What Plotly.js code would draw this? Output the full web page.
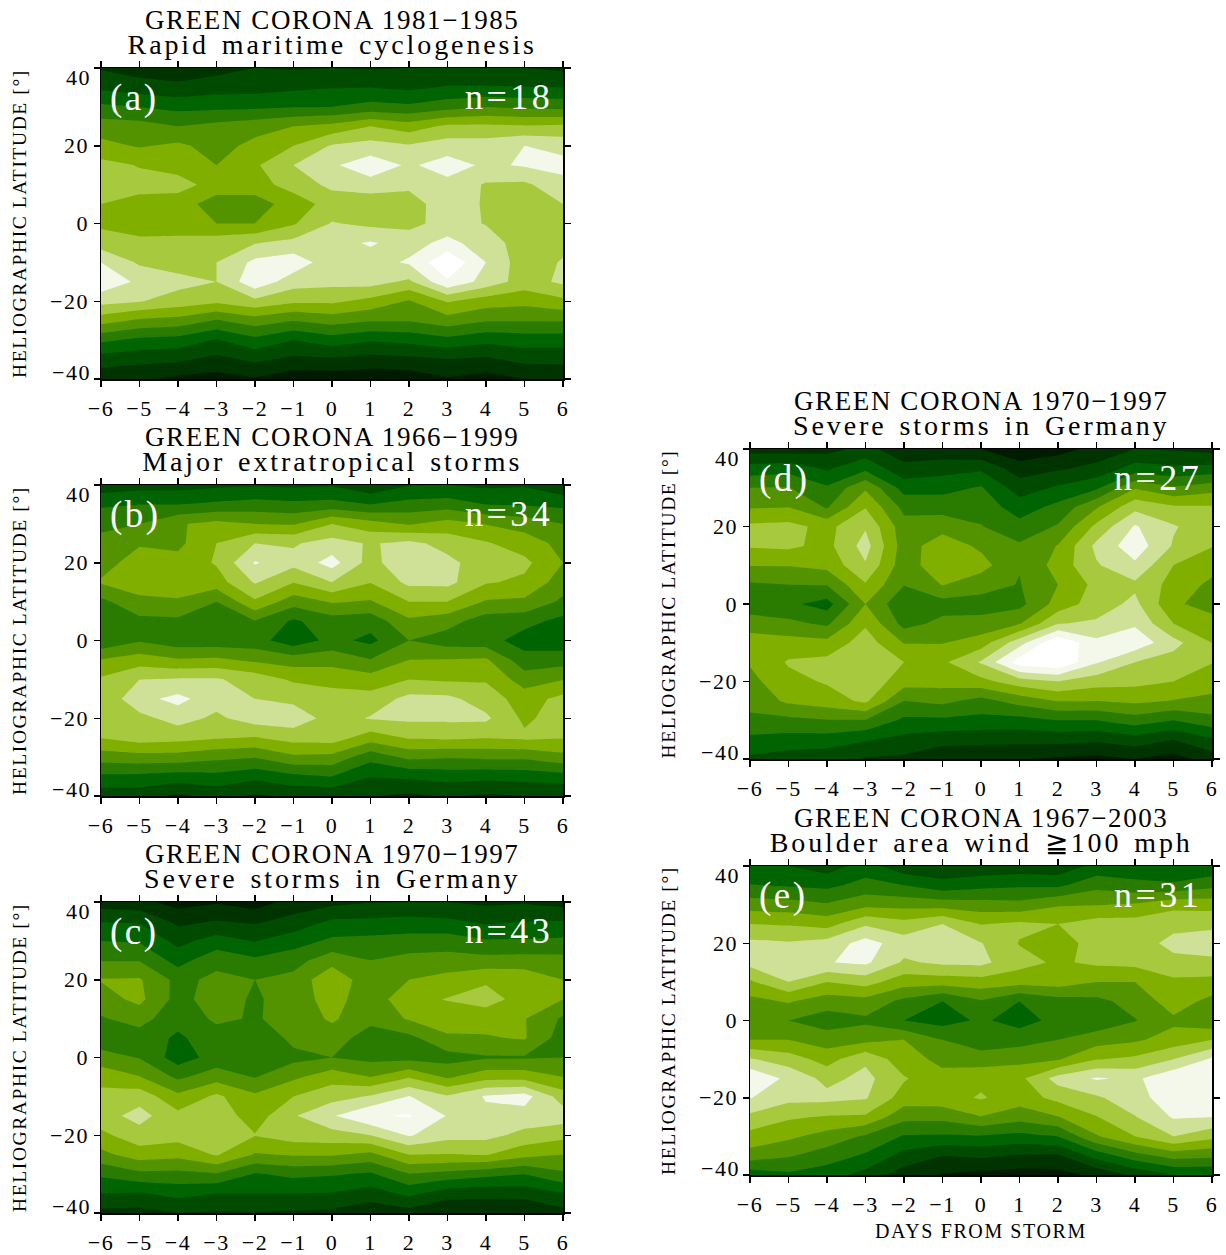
<!DOCTYPE html>
<html><head><meta charset="utf-8">
<script src="https://cdn.plot.ly/plotly-3.0.1.min.js"></script>
<style>html,body{margin:0;padding:0;background:#fff}#chart{width:1226px;height:1255px}
svg text{letter-spacing:1.6px}
text[data-unformatted^="n="]{letter-spacing:3.5px}
text[data-unformatted^="("]{letter-spacing:2.5px}
</style></head><body><div id="chart"></div>
<script>
const days=[-6,-5,-4,-3,-2,-1,0,1,2,3,4,5,6];
const latitudes=[40,35,30,25,20,15,10,5,0,-5,-10,-15,-20,-25,-30,-35,-40];
const panelA=[
[1.9,1.5,1.3,1.6,2.0,1.9,2.0,1.9,2.0,2.0,2.0,2.0,1.8],
[2.8,2.5,2.3,2.6,2.6,2.8,2.95,3.0,2.8,3.1,3.1,3.05,3.0],
[4.2,4.0,3.7,3.75,3.8,3.95,4.0,4.35,4.2,4.6,5.0,4.8,4.7],
[5.5,5.4,5.0,5.3,5.6,6.0,6.3,7.0,6.5,7.2,7.2,7.1,7.2],
[6.3,5.9,6.2,5.6,6.3,7.0,8.1,8.4,8.1,8.5,8.5,9.0,8.7],
[7.3,6.95,6.7,6.0,6.85,8.0,8.85,9.6,8.85,9.45,8.82,9.1,9.3],
[7.2,7.3,7.3,6.7,6.7,7.3,8.3,8.6,8.2,8.7,7.9,7.8,8.7],
[7.0,6.7,6.6,5.4,5.4,6.6,7.3,7.3,7.6,8.5,7.9,7.6,8.0],
[6.8,6.4,6.5,6.0,6.0,6.9,8.08,7.75,7.7,8.4,7.95,7.4,7.6],
[7.5,7.3,7.3,7.6,7.95,8.3,8.7,9.1,8.6,9.3,8.5,7.5,7.7],
[9.0,7.85,7.6,8.0,9.25,9.6,8.4,8.6,9.13,10.87,9.0,7.4,8.1],
[9.7,8.8,8.3,8.0,9.7,8.45,8.3,8.4,7.8,9.85,8.6,7.55,8.2],
[8.35,8.05,7.6,7.2,7.75,7.2,7.2,6.7,5.9,7.1,6.5,6.3,6.75],
[6.4,5.8,5.6,4.9,5.5,5.0,5.4,5.05,5.05,5.55,5.05,5.05,5.05],
[4.2,3.75,3.6,2.9,3.7,3.0,3.5,3.1,3.3,3.7,3.3,3.45,3.45],
[2.5,2.3,2.2,1.7,2.2,1.75,1.85,1.6,1.75,1.95,1.8,2.3,2.3],
[1.3,1.2,0.75,0.6,0.9,0.4,0.4,0.3,0.4,0.9,0.6,1.0,1.1]];
const panelB=[
[2.4,2.6,2.6,2.8,2.9,2.8,2.9,2.2,2.95,3.0,2.8,2.9,2.2],
[3.85,4.0,4.0,4.2,4.4,4.25,4.35,4.0,4.35,4.5,4.0,3.9,3.75],
[4.75,5.0,5.9,6.3,6.0,5.9,7.0,6.4,5.9,6.4,5.95,5.6,5.0],
[5.3,5.9,5.75,7.0,8.0,7.9,8.4,7.9,8.3,7.6,7.1,6.5,5.7],
[5.6,6.45,6.35,7.1,9.1,8.3,9.4,7.6,8.93,8.3,7.4,7.25,6.0],
[6.1,6.6,6.7,6.55,8.1,7.05,8.0,7.05,8.25,8.3,7.1,6.8,5.5],
[4.75,5.7,5.85,5.0,6.85,5.45,6.1,5.9,7.0,7.0,5.9,5.8,4.8],
[4.3,4.75,4.8,4.5,4.95,3.85,4.55,4.4,5.8,5.4,4.5,4.35,3.7],
[4.2,4.9,4.4,4.4,4.4,3.4,4.3,3.75,5.0,4.5,4.4,3.55,3.4],
[6.05,6.5,6.1,6.2,5.8,5.5,5.65,5.05,6.0,6.05,6.15,4.4,4.55],
[7.15,8.0,8.1,8.1,7.6,6.85,6.6,6.45,7.0,6.85,6.9,5.5,5.95],
[7.2,8.7,9.3,8.4,8.0,7.75,7.5,7.4,8.3,8.25,7.5,6.55,7.3],
[7.4,7.7,8.4,7.8,8.5,8.6,7.6,8.08,8.2,8.2,8.2,6.8,7.5],
[7.05,7.5,7.35,7.1,6.95,7.4,7.5,6.5,7.1,7.2,7.05,7.2,7.05],
[5.45,5.6,5.6,5.25,5.05,5.8,5.7,4.35,5.25,5.1,5.2,5.2,5.7],
[3.8,3.75,3.55,3.7,3.3,3.75,4.0,3.05,3.2,3.4,3.3,3.4,3.6],
[2.4,2.4,1.8,2.3,1.85,2.2,2.2,2.05,1.8,2.1,1.85,2.0,2.0]];
const panelC=[
[1.5,1.3,0.6,0.9,0.5,1.4,1.7,1.95,2.0,2.0,1.8,1.9,1.6],
[2.95,2.9,1.75,2.05,1.85,2.35,3.15,3.2,3.35,3.2,2.8,3.0,3.05],
[4.0,3.9,2.7,3.4,2.95,3.55,4.2,4.3,4.4,4.5,4.1,4.1,4.2],
[4.95,4.95,3.6,4.7,4.2,4.6,5.6,5.0,5.35,5.4,5.35,5.4,5.35],
[6.05,6.1,4.7,5.25,5.0,5.3,6.8,5.3,6.0,6.35,6.85,6.7,6.0],
[5.6,6.25,4.65,5.5,4.85,5.5,6.4,5.4,6.7,7.05,7.4,6.6,6.0],
[4.9,5.4,4.3,5.2,4.9,5.4,6.15,5.3,6.1,6.5,6.45,6.05,4.85],
[4.4,4.5,3.85,4.5,4.1,5.3,5.5,4.5,4.7,5.85,5.9,6.1,4.5],
[5.4,4.95,3.5,4.4,4.1,4.7,5.0,4.7,4.65,4.6,4.9,4.9,5.0],
[6.65,6.05,4.8,5.55,4.95,5.8,6.6,6.0,6.9,5.85,6.6,6.6,6.0],
[7.3,7.6,6.25,7.2,6.2,7.0,7.6,8.1,9.05,8.1,9.1,9.4,7.5],
[7.6,8.35,7.3,7.6,6.5,7.9,8.9,9.9,10.1,8.95,8.75,8.6,8.5],
[6.75,7.6,7.4,7.6,7.05,7.5,7.6,8.0,9.1,8.35,8.3,7.7,7.3],
[5.7,6.5,6.3,7.1,5.9,6.1,6.1,5.7,7.0,6.95,7.05,6.3,6.0],
[4.2,4.75,4.7,4.9,3.9,4.25,4.1,3.85,4.95,4.65,4.3,4.0,4.8],
[3.0,2.9,3.35,3.0,3.0,3.0,2.95,2.55,3.25,2.45,2.3,2.4,2.95],
[1.7,1.65,2.0,1.9,1.95,1.85,1.75,1.3,1.6,1.0,1.2,1.05,1.65]];
const panelD=[
[1.6,1.5,1.7,2.3,1.4,1.3,1.0,0.2,0.6,1.3,2.0,1.9,1.65],
[3.4,3.6,2.85,3.75,2.3,2.6,2.8,1.5,1.85,2.3,3.4,3.2,3.3],
[5.0,5.05,4.15,5.85,3.6,3.65,4.1,2.5,3.15,3.8,5.9,5.1,5.6],
[5.9,6.0,4.9,6.95,4.7,4.6,4.6,3.5,4.3,5.9,7.7,7.15,7.1],
[7.2,7.3,6.7,7.9,5.4,5.6,5.05,4.35,5.1,7.25,9.1,8.1,7.35],
[7.1,7.2,6.7,8.4,5.5,6.6,5.8,5.15,6.05,8.25,9.6,7.9,7.05],
[6.05,6.05,6.3,7.9,5.4,6.8,6.4,5.05,6.4,7.9,8.8,7.0,6.4],
[4.85,5.0,5.05,6.9,5.05,6.05,5.4,4.95,6.0,7.3,7.8,6.65,5.75],
[4.4,4.2,3.6,6.0,4.2,4.6,4.6,4.7,6.4,7.5,8.25,6.2,5.5],
[5.5,5.25,4.8,6.85,4.65,5.25,5.3,5.9,7.95,8.15,8.85,7.0,6.5],
[6.5,6.4,6.3,7.5,5.95,5.95,6.5,8.6,10.9,9.25,9.65,8.35,7.0],
[6.1,7.1,7.3,7.7,7.0,6.8,8.1,10.5,10.9,9.1,8.0,7.55,7.05],
[5.7,6.7,7.1,7.7,6.45,6.4,6.7,7.55,8.0,7.45,7.3,7.0,6.35],
[5.3,6.2,6.55,7.2,5.0,5.25,4.65,5.4,6.05,6.0,6.2,5.95,5.8],
[4.8,4.75,4.95,4.95,3.8,3.8,3.7,3.65,4.0,4.0,4.55,4.0,4.65],
[3.75,3.6,3.55,3.1,2.7,2.4,2.3,2.3,2.35,2.2,2.55,2.0,2.85],
[2.8,2.5,2.35,1.9,1.8,1.2,1.2,1.1,0.85,0.7,1.0,0.6,1.45]];
const panelE=[
[3.1,3.0,2.5,3.45,2.3,2.2,2.3,2.4,2.3,3.3,3.25,3.0,3.2],
[4.05,3.9,3.75,4.35,4.0,3.4,3.7,3.85,3.8,4.7,4.35,4.2,4.7],
[5.5,5.4,5.1,5.7,5.65,5.55,5.4,5.3,5.9,5.95,6.1,6.7,6.6],
[7.0,6.9,6.6,7.85,7.35,8.0,6.95,7.2,7.0,7.45,7.45,7.7,7.8],
[8.25,8.1,8.4,9.4,8.5,8.6,8.05,6.95,6.6,7.35,7.5,8.3,8.45],
[8.35,8.6,8.95,9.2,7.85,8.2,8.25,7.35,6.85,7.2,7.3,7.7,7.8],
[6.85,8.0,7.0,7.4,6.45,6.45,6.6,6.4,6.5,6.0,6.0,6.8,6.7],
[5.7,6.1,5.5,5.65,4.75,4.0,4.9,4.0,4.6,4.75,5.35,6.5,5.7],
[5.0,5.0,4.5,4.8,4.0,3.6,4.15,3.6,4.3,4.3,4.95,5.8,5.25],
[6.0,6.0,5.5,5.7,6.0,5.0,4.45,4.6,5.0,5.55,5.85,6.4,7.0],
[8.1,7.5,6.6,7.8,6.4,5.75,5.45,5.7,5.9,6.95,7.2,8.0,9.15],
[9.9,8.75,7.7,8.3,7.1,6.3,6.75,6.75,8.4,9.1,8.8,9.8,9.75],
[9.05,8.3,8.3,8.1,6.55,6.6,7.1,6.5,7.3,7.85,8.6,9.6,9.6],
[7.75,7.15,6.9,6.85,5.3,5.3,5.95,5.4,5.95,6.95,7.95,9.1,9.0],
[6.65,6.2,5.6,4.85,3.9,3.85,3.9,3.7,4.0,5.9,7.0,8.0,7.3],
[5.55,5.1,4.5,3.85,2.65,2.0,2.2,1.9,1.85,3.4,4.6,5.4,5.25],
[3.4,3.8,3.45,2.65,1.5,0.9,0.65,0.55,0.65,1.2,2.2,3.0,3.0]];
const bandColors=['#001c00','#003300','#004b00','#006400','#2a7c00','#549300','#80af00','#a6c93e','#cfe197','#f3f8ea','#ffffff'];
const panelTitles=['GREEN CORONA 1981−1985<br>Rapid maritime cyclogenesis','GREEN CORONA 1966−1999<br>Major extratropical storms','GREEN CORONA 1970−1997<br>Severe storms in Germany','GREEN CORONA 1970−1997<br>Severe storms in Germany','GREEN CORONA 1967−2003<br>Boulder area wind ≧100 mph'];
const panelTags=['(a)','(b)','(c)','(d)','(e)'];
const panelCounts=['n=18','n=34','n=43','n=27','n=31'];
const panelData=[panelA,panelB,panelC,panelD,panelE];
const boxes=[[101,563,68,379],[101,563,485,796],[101,563,902,1213],[750,1212,449,759],[750,1212,866,1175]];
const W=1226,H=1255,FF='"Liberation Serif",serif';
const traces=[],annotations=[],layout={width:W,height:H,margin:{l:0,r:0,t:0,b:0},paper_bgcolor:'#fff',plot_bgcolor:'#fff',showlegend:false,font:{family:FF,color:'#000'}};
const scale=bandColors.map((c,i)=>[i/10,c]);
const ascLat=latitudes.slice().reverse();
panelData.forEach((rows,i)=>{
  const s=i===0?'':String(i+1),[L,R,T,B]=boxes[i];
  traces.push({type:'contour',x:days,y:ascLat,z:rows.slice().reverse(),xaxis:'x'+s,yaxis:'y'+s,autocontour:false,
    contours:{start:1,end:10,size:1,coloring:'fill',showlines:false},line:{width:0,smoothing:0},colorscale:scale,showscale:false,hoverinfo:'skip'});
  const ax={ticks:'outside',ticklen:6,tickwidth:1.5,tickcolor:'#000',showline:true,linecolor:'#000',linewidth:1.5,mirror:'ticks',showgrid:false,zeroline:false,layer:'above traces',tickfont:{family:FF,size:22,color:'#000'}};
  layout['xaxis'+s]={...ax,domain:[L/W,R/W],range:[-6,6],tickmode:'array',tickvals:days,ticktext:days.map(d=>d<0?'−'+(-d):String(d)),ticklabelstandoff:3,anchor:'y'+s,
    title:i===4?{text:'DAYS FROM STORM',font:{family:FF,size:20,color:'#000'},standoff:8}:undefined};
  layout['yaxis'+s]={...ax,domain:[1-B/H,1-T/H],range:[-40,40],tickmode:'array',tickvals:[-40,-20,0,20,40],ticktext:['','−20','0','20',''],ticklabelstandoff:0,anchor:'x'+s,
    title:{text:'HELIOGRAPHIC LATITUDE [°]',font:{family:FF,size:19.5,color:'#000'},standoff:18}};
  const mk=(o)=>annotations.push({showarrow:false,font:{family:FF,size:22,color:'#000'},...o});
  mk({xref:'x'+s,yref:'y'+s,x:-6,y:40,xanchor:'right',yanchor:'middle',xshift:-8,yshift:-9,text:'40'});
  mk({xref:'x'+s,yref:'y'+s,x:-6,y:-40,xanchor:'right',yanchor:'middle',xshift:-8,yshift:7,text:'−40'});
  mk({xref:'paper',yref:'paper',x:(L+R)/2/W,y:1-(T-31)/H,xanchor:'center',yanchor:'middle',text:panelTitles[i],font:{family:FF,size:27,color:'#000'}});
  mk({xref:'paper',yref:'paper',x:(L+7)/W,y:1-(T+30)/H,xanchor:'left',yanchor:'middle',text:panelTags[i],font:{family:FF,size:37,color:'#fff'}});
  mk({xref:'paper',yref:'paper',x:(R-8)/W,y:1-(T+29)/H,xanchor:'right',yanchor:'middle',text:panelCounts[i],font:{family:FF,size:36,color:'#fff'}});
});
layout.annotations=annotations;
Plotly.newPlot('chart',traces,layout,{staticPlot:true,displayModeBar:false}).then(()=>{
  document.querySelectorAll('text[data-unformatted^="GREEN"]').forEach(t=>{
    const lines=t.querySelectorAll('tspan.line');
    if(lines.length<2)return;
    lines[1].setAttribute('dy','24.5px');
    lines[1].style.letterSpacing='2.9px';
    lines[1].style.wordSpacing='3px';
    lines[1].style.fontSize='28px';
  });
});
</script></body></html>
